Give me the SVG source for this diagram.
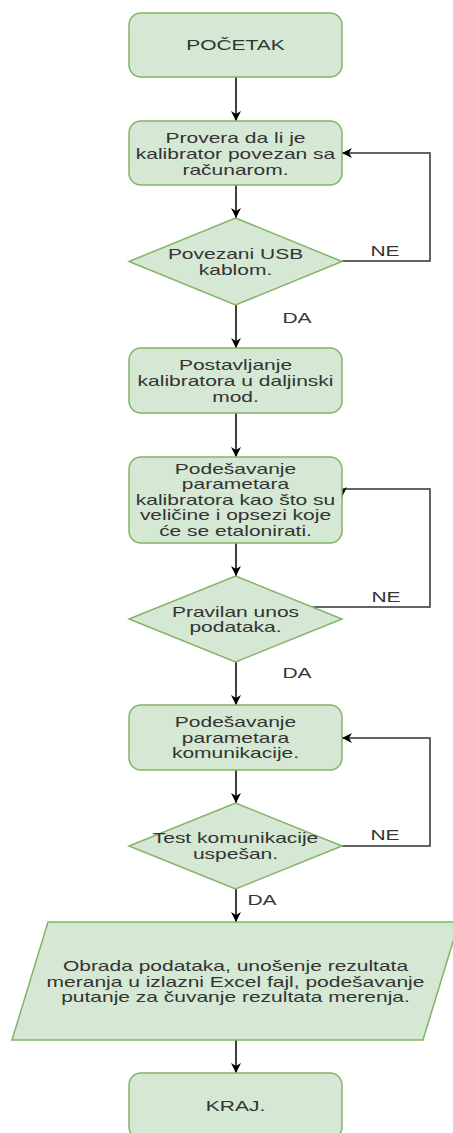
<svg xmlns="http://www.w3.org/2000/svg" width="453" height="1133" viewBox="0 0 453 1133">
<style>
.n{fill:#d5e8d4;stroke:#82b366;stroke-width:1.5}
.t{font-family:"Liberation Sans",Arial,sans-serif;font-size:14px;fill:#333333;text-anchor:middle}
.e{fill:none;stroke:#000000;stroke-width:1.5}
.l{fill:none;stroke:#333333;stroke-width:1.5}
</style>
<defs>
<marker id="a" viewBox="0 0 10 10" refX="10" refY="5" markerWidth="10" markerHeight="10" markerUnits="userSpaceOnUse" orient="auto">
<path d="M0,0 L10,5 L0,10 L3,5 z" fill="#000000"/>
</marker>
</defs>
<rect width="453" height="1133" fill="#ffffff"/>
<g id="connectors">
<path class="e" d="M236,77 V121" marker-end="url(#a)"/>
<path class="e" d="M236,185 V218" marker-end="url(#a)"/>
<path class="e" d="M236,305 V348" marker-end="url(#a)"/>
<path class="e" d="M236,413 V457" marker-end="url(#a)"/>
<path class="e" d="M236,543 V576" marker-end="url(#a)"/>
<path class="e" d="M236,662 V705" marker-end="url(#a)"/>
<path class="e" d="M236,770 V803" marker-end="url(#a)"/>
<path class="e" d="M236,889 V922" marker-end="url(#a)"/>
<path class="e" d="M236,1040 V1073" marker-end="url(#a)"/>
<path class="l" d="M342,261 H430 V153 H342" marker-end="url(#a)"/>
<path class="l" d="M313,607 H430 V489 H342 V497" marker-end="url(#a)"/>
<path class="l" d="M342,846 H430 V738 H342" marker-end="url(#a)"/>
<text class="t" transform="translate(385,0) scale(1.5,1)" x="0" y="256">NE</text>
<text class="t" transform="translate(297,0) scale(1.5,1)" x="0" y="323">DA</text>
<text class="t" transform="translate(386,0) scale(1.5,1)" x="0" y="602">NE</text>
<text class="t" transform="translate(297,0) scale(1.5,1)" x="0" y="678">DA</text>
<text class="t" transform="translate(385,0) scale(1.5,1)" x="0" y="840">NE</text>
<text class="t" transform="translate(262,0) scale(1.5,1)" x="0" y="905">DA</text>
</g>
<g id="pocetak">
<rect class="n" x="129" y="13" width="213" height="64" rx="12"/>
<text class="t" transform="translate(235.5,0) scale(1.5,1)" x="0" y="50">POČETAK</text>
</g>
<g id="provera">
<rect class="n" x="129" y="121" width="213" height="64" rx="12"/>
<text class="t" transform="translate(235.5,0) scale(1.5,1)"><tspan x="0" y="143">Provera da li je</tspan><tspan x="0" y="159">kalibrator povezan sa</tspan><tspan x="0" y="175">računarom.</tspan></text>
</g>
<g id="usb">
<path class="n" d="M235.5,218 L342,261.5 L235.5,305 L129,261.5 Z"/>
<text class="t" transform="translate(235.5,0) scale(1.5,1)"><tspan x="0" y="259">Povezani USB</tspan><tspan x="0" y="275">kablom.</tspan></text>
</g>
<g id="postavljanje">
<rect class="n" x="129" y="348" width="213" height="65" rx="12"/>
<text class="t" transform="translate(235.5,0) scale(1.5,1)"><tspan x="0" y="370">Postavljanje</tspan><tspan x="0" y="386">kalibratora u daljinski</tspan><tspan x="0" y="402">mod.</tspan></text>
</g>
<g id="podesavanje-param">
<rect class="n" x="129" y="457" width="213" height="86" rx="12"/>
<text class="t" transform="translate(235.5,0) scale(1.5,1)"><tspan x="0" y="474">Podešavanje</tspan><tspan x="0" y="489.5">parametara</tspan><tspan x="0" y="505">kalibratora kao što su</tspan><tspan x="0" y="520.5">veličine i opsezi koje</tspan><tspan x="0" y="536">će se etalonirati.</tspan></text>
</g>
<g id="pravilan">
<path class="n" d="M235.5,576 L342,619 L235.5,662 L129,619 Z"/>
<text class="t" transform="translate(235.5,0) scale(1.5,1)"><tspan x="0" y="617">Pravilan unos</tspan><tspan x="0" y="632">podataka.</tspan></text>
</g>
<g id="komunikacija">
<rect class="n" x="129" y="705" width="213" height="65" rx="12"/>
<text class="t" transform="translate(235.5,0) scale(1.5,1)"><tspan x="0" y="727">Podešavanje</tspan><tspan x="0" y="743">parametara</tspan><tspan x="0" y="758">komunikacije.</tspan></text>
</g>
<g id="test">
<path class="n" d="M235.5,803 L342,846 L235.5,889 L129,846 Z"/>
<text class="t" transform="translate(235.5,0) scale(1.5,1)"><tspan x="0" y="843">Test komunikacije</tspan><tspan x="0" y="859">uspešan.</tspan></text>
</g>
<g id="obrada">
<path class="n" d="M48,922 L459,922 L423,1040 L12,1040 Z"/>
<text class="t" transform="translate(235.5,0) scale(1.5,1)"><tspan x="0" y="971">Obrada podataka, unošenje rezultata</tspan><tspan x="0" y="987">meranja u izlazni Excel fajl, podešavanje</tspan><tspan x="0" y="1002">putanje za čuvanje rezultata merenja.</tspan></text>
</g>
<g id="kraj">
<rect class="n" x="129" y="1073" width="213" height="66" rx="12"/>
<text class="t" transform="translate(235.5,0) scale(1.5,1)" x="0" y="1111">KRAJ.</text>
</g>
</svg>
